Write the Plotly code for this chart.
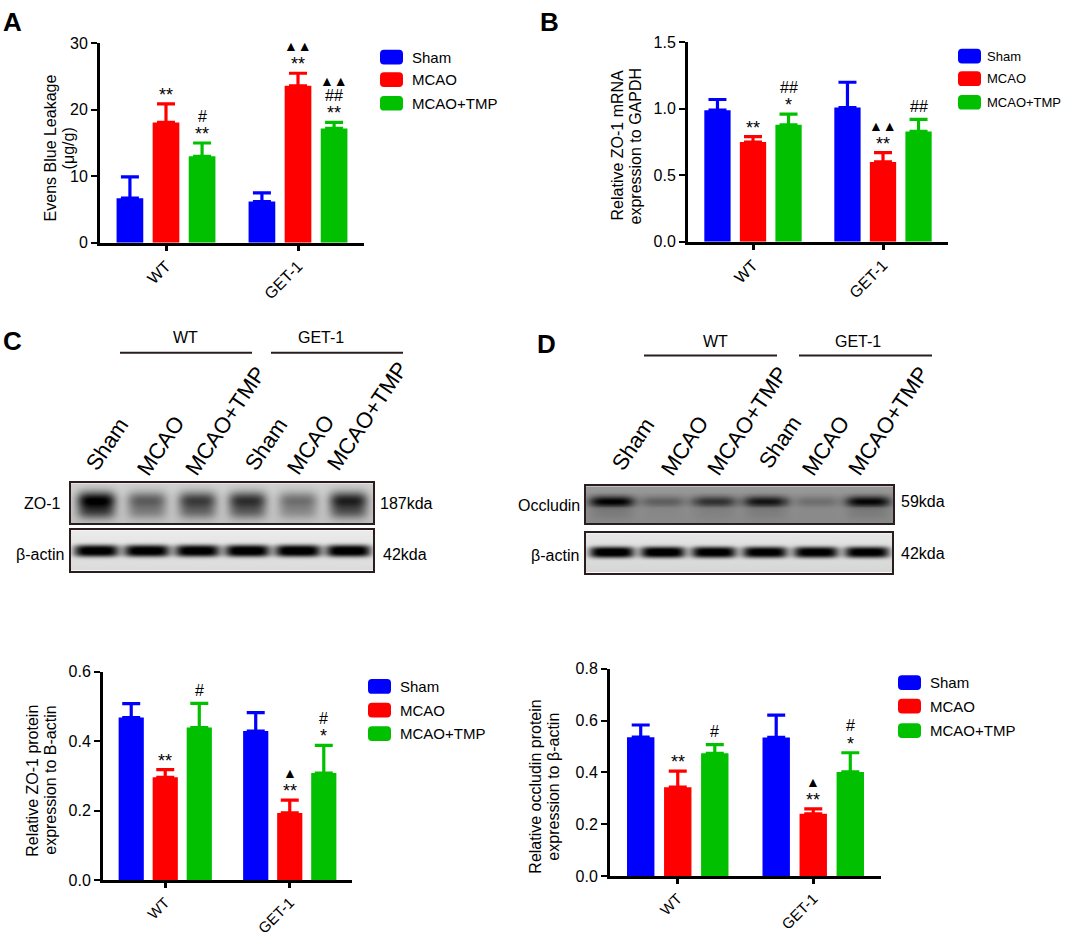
import numpy as np
import plotly.graph_objects as go

W, H = 1065, 939
NARROW = "Liberation Sans Narrow, Arial Narrow, Liberation Sans, Arial"
SANS = "Liberation Sans, Arial"

groups = ["WT", "GET-1"]
treatments = ["Sham", "MCAO", "MCAO+TMP"]
colors = ["#0000ff", "#ff0000", "#00c000"]

# ---- Panel A : Evans blue leakage (ug/g)
a_sham = [6.7, 6.2]
a_sham_err = [3.2, 1.3]
a_mcao = [18.1, 23.6]
a_mcao_err = [2.8, 1.9]
a_tmp = [13.0, 17.2]
a_tmp_err = [2.0, 0.9]
a_marks = [[[], ["**"], ["**", "#"]], [[], ["**", "▲▲"], ["**", "##", "▲▲"]]]

# ---- Panel B : ZO-1 mRNA / GAPDH
b_sham = [0.99, 1.01]
b_sham_err = [0.08, 0.19]
b_mcao = [0.75, 0.60]
b_mcao_err = [0.04, 0.07]
b_tmp = [0.88, 0.83]
b_tmp_err = [0.08, 0.09]
b_marks = [[[], ["**"], ["*", "##"]], [[], ["**", "▲▲"], ["##"]]]

# ---- Panel C : ZO-1 protein / B-actin
c_sham = [0.468, 0.429]
c_sham_err = [0.040, 0.053]
c_mcao = [0.296, 0.193]
c_mcao_err = [0.022, 0.037]
c_tmp = [0.439, 0.308]
c_tmp_err = [0.070, 0.080]
c_marks = [[[], ["**"], ["#"]], [[], ["**", "▲"], ["*", "#"]]]

# ---- Panel D : occludin protein / beta-actin
d_sham = [0.536, 0.535]
d_sham_err = [0.047, 0.086]
d_mcao = [0.343, 0.240]
d_mcao_err = [0.062, 0.019]
d_tmp = [0.474, 0.402]
d_tmp_err = [0.033, 0.074]
d_marks = [[[], ["**"], ["#"]], [[], ["**", "▲"], ["*", "#"]]]

# ---- Western blot lanes and band intensities (0..1)
lanes = ["Sham", "MCAO", "MCAO+TMP", "Sham", "MCAO", "MCAO+TMP"]
zo1_band = [0.80, 0.42, 0.55, 0.60, 0.35, 0.66]
actin_c_band = [0.95, 0.95, 0.95, 0.97, 0.97, 0.97]
occludin_band = [0.58, 0.20, 0.38, 0.50, 0.14, 0.56]
actin_d_band = [0.95, 0.95, 0.93, 0.92, 0.92, 0.92]

BARGAP = 0.18


def px(x):
    return x / W


def py(y):
    return 1 - y / H


fig = go.Figure()
layout = dict(
    width=W, height=H, margin=dict(l=0, r=0, t=0, b=0),
    paper_bgcolor="white", plot_bgcolor="white", showlegend=False,
    barmode="group", bargap=BARGAP, bargroupgap=0.26,
    font=dict(family=NARROW, color="black"),
)
annotations = []
shapes = []


def rounded_rect(x0, y0, x1, y1, r=4):
    # pixel coords -> paper path with rounded corners
    p = lambda x, y: f"{px(x):.5f},{py(y):.5f}"
    return (f"M {p(x0 + r, y0)} L {p(x1 - r, y0)} Q {p(x1, y0)} {p(x1, y0 + r)} "
            f"L {p(x1, y1 - r)} Q {p(x1, y1)} {p(x1 - r, y1)} L {p(x0 + r, y1)} "
            f"Q {p(x0, y1)} {p(x0, y1 - r)} L {p(x0, y0 + r)} Q {p(x0, y0)} {p(x0 + r, y0)} Z")


def bar_panel(n, vals, errs, marks, dom_x, dom_y, yrange, dtick, fmt,
              title_lines, title_x, title_y, legend_x, legend_rows,
              xtick_size=16, legend_size=15, legend_gap=30):
    xa = "x" if n == 1 else f"x{n}"
    ya = "y" if n == 1 else f"y{n}"
    for k in range(3):
        fig.add_trace(go.Bar(
            x=groups, y=vals[k], name=treatments[k], marker_color=colors[k],
            marker_line_width=0, xaxis=xa, yaxis=ya, hoverinfo="skip",
            error_y=dict(type="data", array=errs[k], arrayminus=[0] * len(errs[k]),
                         symmetric=False, color=colors[k], thickness=3.2, width=9),
        ))
    suffix = "" if n == 1 else str(n)
    layout["xaxis" + suffix] = dict(
        domain=[px(dom_x[0]), px(dom_x[1])], anchor=ya, type="category",
        range=[-0.5, 1.5], showline=True, linewidth=3, linecolor="black",
        ticks="outside", ticklen=5, tickwidth=3, tickcolor="black",
        tickangle=-45, tickfont=dict(family=NARROW, size=xtick_size),
        showgrid=False, zeroline=False, fixedrange=True,
    )
    layout["yaxis" + suffix] = dict(
        domain=[py(dom_y[1]), py(dom_y[0])], anchor=xa, range=yrange,
        dtick=dtick, tickformat=fmt, showline=True, linewidth=3,
        linecolor="black", ticks="outside", ticklen=6, tickwidth=2,
        tickcolor="black", tickfont=dict(family=NARROW, size=16),
        showgrid=False, zeroline=False, fixedrange=True,
    )
    slot = (1 - BARGAP) / 3
    for i in range(len(groups)):
        for k in range(3):
            top = vals[k][i] + errs[k][i]
            for j, sym in enumerate(marks[i][k]):
                shift = 13 + 14 * j
                size = 16
                if "*" in sym:
                    shift -= 4
                    size = 18
                if "▲" in sym:
                    size = 14
                annotations.append(dict(
                    x=i + (k - 1) * slot, y=top, xref=xa, yref=ya, text=sym,
                    showarrow=False, yshift=shift, xanchor="center", yanchor="middle",
                    font=dict(family=SANS, size=size, color="black"),
                ))
    for t, (tx, txt) in enumerate(zip(title_x, title_lines)):
        annotations.append(dict(
            x=px(tx), y=py(title_y), xref="paper", yref="paper", text=txt,
            textangle=-90, showarrow=False, xanchor="center", yanchor="middle",
            font=dict(family=SANS, size=16, color="black"),
        ))
    for k in range(3):
        yc = legend_rows[k]
        shapes.append(dict(type="path", xref="paper", yref="paper",
                           path=rounded_rect(legend_x, yc - 7.5, legend_x + 23, yc + 7.5),
                           fillcolor=colors[k], line=dict(width=0)))
        annotations.append(dict(
            x=px(legend_x + legend_gap), y=py(yc), xref="paper", yref="paper",
            text=treatments[k], showarrow=False, xanchor="left", yanchor="middle",
            font=dict(family=NARROW, size=legend_size, color="black"),
        ))


bar_panel(1, [a_sham, a_mcao, a_tmp], [a_sham_err, a_mcao_err, a_tmp_err], a_marks,
          (100, 364), (36, 239), [0, 30], 10, "d",
          ["Evens Blue Leakage", "(μg/g)"], [50, 68], 143, 380, [50, 73, 97])
bar_panel(2, [b_sham, b_mcao, b_tmp], [b_sham_err, b_mcao_err, b_tmp_err], b_marks,
          (688, 948), (35, 238), [0, 1.5], 0.5, ".1f",
          ["Relative ZO-1 mRNA", "expression to GAPDH"], [617, 635], 140, 958, [49, 72, 96],
          legend_size=13, legend_gap=27)
bar_panel(3, [c_sham, c_mcao, c_tmp], [c_sham_err, c_mcao_err, c_tmp_err], c_marks,
          (103, 352), (676, 888), [0, 0.6], 0.2, ".1f",
          ["Relative ZO-1 protein", "expression to B-actin"], [33, 51], 787, 368, [691, 715, 739],
          xtick_size=15)
bar_panel(4, [d_sham, d_mcao, d_tmp], [d_sham_err, d_mcao_err, d_tmp_err], d_marks,
          (610, 881), (673, 884), [0, 0.8], 0.2, ".1f",
          ["Relative occludin protein", "expression to β-actin"], [536, 554], 793, 898, [687, 711, 736],
          xtick_size=15)


def blot(n, bands, box, bg, yc, sy, sx, power, vpow=2, smear=0.0):
    xs = np.linspace(0, 6, 151)
    ys = np.linspace(0, 1, 41)
    X, Y = np.meshgrid(xs, ys)
    z = np.full_like(X, bg) + 0.06 * (1 - Y)
    for i, v in enumerate(bands):
        hx = np.exp(-np.abs((X - (i + 0.5)) / sx) ** power)
        z += v * hx * np.exp(-np.abs((Y - yc) / sy) ** vpow)
        if smear:
            z += smear * v * hx * np.exp(-((Y - (yc - 0.3)) / 0.18) ** 2)
    z = np.clip(z, 0, 1)
    xa, ya = f"x{n}", f"y{n}"
    fig.add_trace(go.Heatmap(
        x=xs, y=ys, z=z, xaxis=xa, yaxis=ya, zmin=0, zmax=1, zsmooth="best",
        colorscale=[[0, "#ffffff"], [1, "#000000"]], showscale=False, hoverinfo="skip",
    ))
    ax = dict(showline=True, mirror=True, linewidth=2.2, linecolor="#2b1d1d",
              showticklabels=False, ticks="", showgrid=False, zeroline=False, fixedrange=True)
    layout[f"xaxis{n}"] = dict(ax, domain=[px(box[0]), px(box[1])], anchor=ya, range=[0, 6])
    layout[f"yaxis{n}"] = dict(ax, domain=[py(box[3]), py(box[2])], anchor=xa, range=[0, 1])


blot(5, zo1_band, (71, 373, 484, 525), 0.18, 0.58, 0.22, 0.38, 4, smear=0.5)
blot(6, actin_c_band, (71, 373, 532, 573), 0.08, 0.50, 0.15, 0.45, 5, vpow=3)
blot(7, occludin_band, (586, 893, 487, 525), 0.40, 0.60, 0.14, 0.44, 4, smear=0.12)
blot(8, actin_d_band, (586, 892, 535, 575), 0.10, 0.54, 0.14, 0.44, 5, vpow=3)


def text(x, y, s, size, anchor="center", family=SANS, bold=False, angle=0):
    annotations.append(dict(
        x=px(x), y=py(y), xref="paper", yref="paper",
        text=f"<b>{s}</b>" if bold else s, showarrow=False,
        xanchor=anchor, yanchor="middle", textangle=angle,
        font=dict(family=family, size=size, color="black"),
    ))


# panel letters
text(12, 14, "A", 26, bold=True)
text(549, 14, "B", 26, bold=True)
text(12, 339, "C", 26, bold=True)
text(546, 342, "D", 26, bold=True)

# blot headers and group lines
for (wx, gx, ty, ly, l1, l2) in [(185, 321, 336, 351, (120, 252), (271, 403)),
                                 (715, 858, 340, 354, (644, 777), (799, 932))]:
    text(wx, ty, "WT", 16, family=NARROW)
    text(gx, ty, "GET-1", 16, family=NARROW)
    for (x0, x1) in (l1, l2):
        shapes.append(dict(type="line", xref="paper", yref="paper", x0=px(x0), x1=px(x1),
                           y0=py(ly), y1=py(ly), line=dict(color="#2b1d1d", width=2)))

# lane labels
lane_c = [(107, 445), (161, 446), (225, 421), (266, 445), (311, 445), (367, 416)]
lane_d = [(633, 445), (685, 446), (747, 421), (780, 443), (826, 446), (888, 421)]
for centers in (lane_c, lane_d):
    for name, (cx, cy) in zip(lanes, centers):
        text(cx, cy, name, 22, angle=-56)

# blot side labels
text(63, 505, "ZO-1", 16, anchor="right", family=NARROW)
text(66, 557, "β-actin", 16, anchor="right", family=NARROW)
text(378, 505, "187kda", 16, anchor="left", family=NARROW)
text(381, 557, "42kda", 16, anchor="left", family=NARROW)
text(582, 507, "Occludin", 16, anchor="right", family=NARROW)
text(581, 558, "β-actin", 16, anchor="right", family=NARROW)
text(899, 503, "59kda", 16, anchor="left", family=NARROW)
text(899, 556, "42kda", 16, anchor="left", family=NARROW)

layout["annotations"] = annotations
layout["shapes"] = shapes
fig.update_layout(**layout)
fig.write_html("out.html", config={"displayModeBar": False},
               post_script="document.body.style.margin='0';document.body.style.overflow='hidden';")
